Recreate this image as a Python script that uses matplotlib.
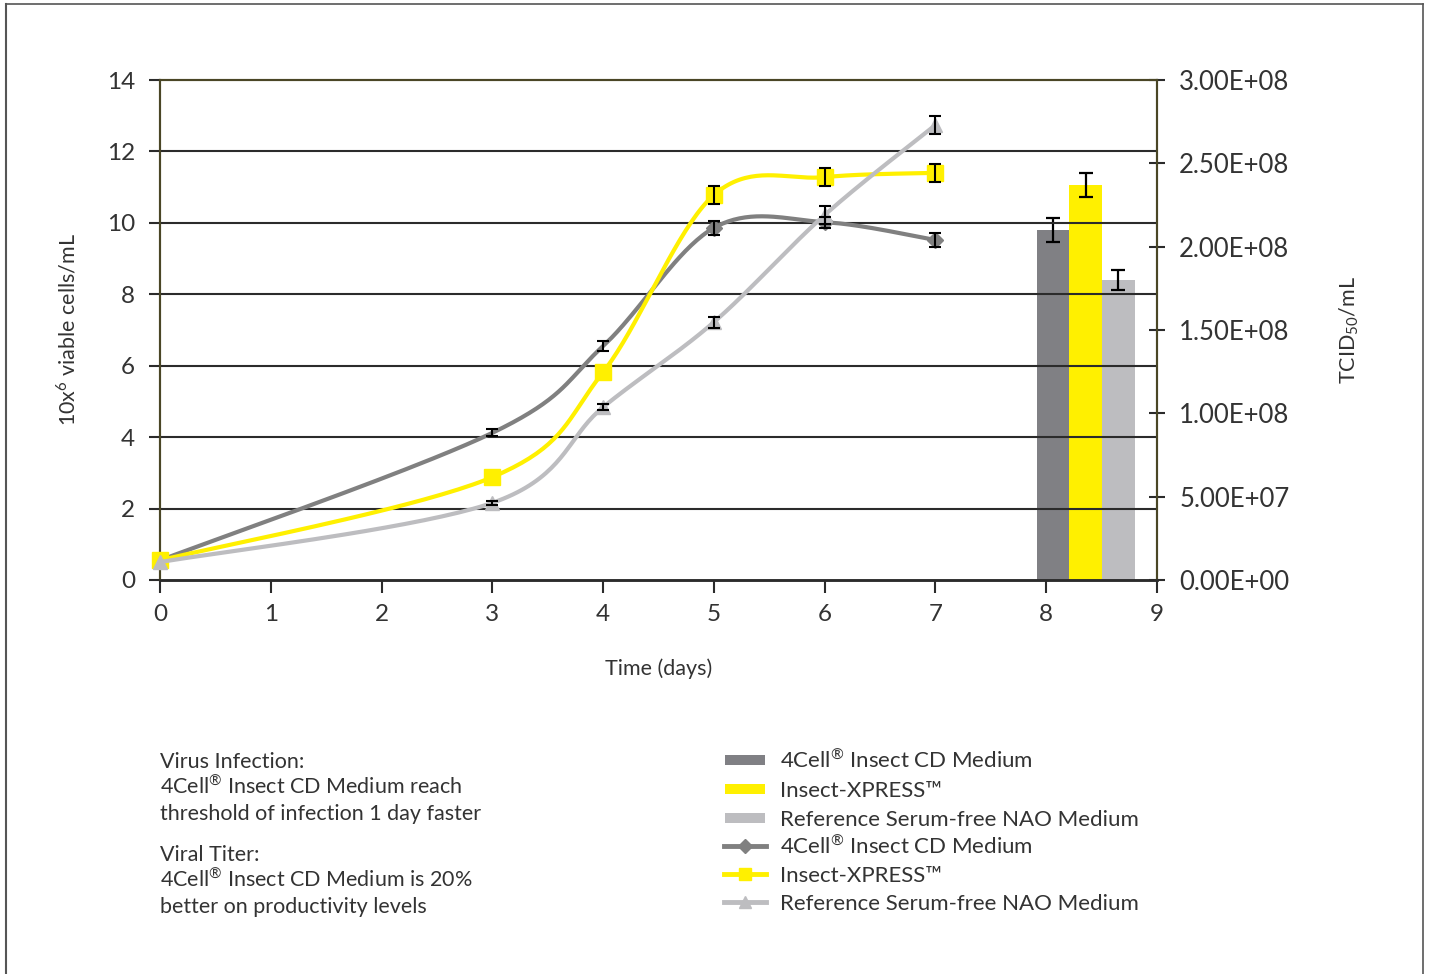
import numpy as np
import matplotlib
matplotlib.use("Agg")
import matplotlib.pyplot as plt
from matplotlib.patches import Rectangle
from matplotlib.lines import Line2D

plt.rcParams['font.family'] = ['Lato', 'DejaVu Sans']

# ---------------- data ----------------
days = [0, 3, 4, 5, 6, 7]
cell_4cell = [0.55, 4.12, 6.55, 9.86, 10.02, 9.52]
err_4cell = [0.0, 0.10, 0.15, 0.20, 0.15, 0.20]
cell_xpress = [0.55, 2.88, 5.82, 10.78, 11.28, 11.40]
err_xpress = [0.0, 0.0, 0.0, 0.25, 0.25, 0.25]
cell_ref = [0.50, 2.16, 4.84, 7.22, 10.22, 12.74]
err_ref = [0.0, 0.05, 0.08, 0.15, 0.25, 0.25]

bar_x = [8.06, 8.355, 8.65]
titer = [2.10e8, 2.37e8, 1.80e8]
titer_err = [0.07e8, 0.07e8, 0.06e8]

REG = "$^{\\mathregular{\u00ae}}$"
series_names = ["4Cell" + REG + " Insect CD Medium", "Insect-XPRESS\u2122",
                "Reference Serum-free NAO Medium"]
right_ticks = [0, 5e7, 1e8, 1.5e8, 2e8, 2.5e8, 3e8]
right_labels = ["0.00E+00", "5.00E+07", "1.00E+08", "1.50E+08",
                "2.00E+08", "2.50E+08", "3.00E+08"]
note_lines_1 = ["Virus Infection:", "4Cell" + REG + " Insect CD Medium reach",
                "threshold of infection 1 day faster"]
note_lines_2 = ["Viral Titer:", "4Cell" + REG + " Insect CD Medium is 20%",
                "better on productivity levels"]

C_GRAY = "#808084"
C_YEL = "#FFF000"
C_LGRAY = "#BDBDC0"
TXT = "#333333"
OLIVE = "#4a4626"

W, H = 1429, 974


def fx(px):
    return px / W


def fy(py):
    return 1 - py / H


def smooth(x, y, n=40):
    x = np.asarray(x, float)
    y = np.asarray(y, float)
    P = np.column_stack([x, y])
    out = [P[0]]
    for i in range(len(P) - 1):
        p0 = P[i - 1] if i > 0 else P[i]
        p1 = P[i]
        p2 = P[i + 1]
        p3 = P[i + 2] if i + 2 < len(P) else P[i + 1]
        c1 = p1 + (p2 - p0) / 6.0
        c2 = p2 - (p3 - p1) / 6.0
        t = np.linspace(0, 1, n)[1:, None]
        seg = ((1 - t) ** 3) * p1 + 3 * ((1 - t) ** 2) * t * c1 + 3 * (1 - t) * t ** 2 * c2 + t ** 3 * p2
        out.extend(seg)
    out = np.array(out)
    return out[:, 0], out[:, 1]


fig = plt.figure(figsize=(14.29, 9.74), dpi=100)
ax = fig.add_axes([fx(160), fy(580), (1157 - 160) / W, 500 / H])
ax2 = ax.twinx()

ax.set_xlim(0, 9)
ax.set_ylim(0, 14)
ax2.set_ylim(0, 3e8)

# grid
for g in range(2, 14, 2):
    ax.axhline(g, color="#2b2b2b", lw=1.5, zorder=1)

# bars on right axis
ax2.bar(bar_x, titer, width=0.295, color=[C_GRAY, C_YEL, C_LGRAY], zorder=2)
ax2.errorbar(bar_x, titer, yerr=titer_err, fmt="none", ecolor="black",
             elinewidth=1.6, capsize=5, capthick=1.6, zorder=3)

ax.set_zorder(ax2.get_zorder() + 1)
ax.patch.set_visible(False)

# lines
sx, sy = smooth(days, cell_4cell)
ax.plot(sx, sy, color="#808080", lw=3, zorder=3)
ax.plot(days, cell_4cell, ls="none", marker="D", ms=8, color="#808080",
        markevery=[0, 3, 4, 5], zorder=3, clip_on=False)
sx, sy = smooth(days, cell_xpress)
ax.plot(sx, sy, color=C_YEL, lw=3, zorder=4)
ax.plot(days, cell_xpress, ls="none", marker="s", ms=11, color=C_YEL, zorder=4,
        clip_on=False)
sx, sy = smooth(days, cell_ref)
ax.plot(sx, sy, color=C_LGRAY, lw=3, zorder=5)
ax.plot(days, cell_ref, ls="none", marker="^", ms=10, color=C_LGRAY, zorder=5,
        clip_on=False)

for vals, errs in [(cell_4cell, err_4cell), (cell_xpress, err_xpress), (cell_ref, err_ref)]:
    idx = [i for i, e in enumerate(errs) if e > 0]
    ax.errorbar([days[i] for i in idx], [vals[i] for i in idx],
                yerr=[errs[i] for i in idx], fmt="none", ecolor="black",
                elinewidth=1.5, capsize=4, capthick=1.5, zorder=6)

# axes styling
ax.set_xticks(range(0, 10))
ax.set_yticks(range(0, 15, 2))
ax.tick_params(axis="x", direction="out", length=9, width=1.5, color="#2b2b2b",
               labelsize=17.5, labelcolor=TXT, pad=8)
ax.tick_params(axis="y", direction="out", length=8, width=1.5, color="#2b2b2b",
               labelsize=17.5, labelcolor=TXT, pad=10)
ax2.set_yticks(right_ticks)
ax2.set_yticklabels(right_labels)
ax2.tick_params(axis="y", direction="inout", length=12, width=1.5, color="#2b2b2b",
                labelsize=18.5, labelcolor=TXT, pad=10)

for a in (ax, ax2):
    for s in ("left", "top", "right"):
        a.spines[s].set_color(OLIVE)
        a.spines[s].set_linewidth(1.5)
    a.spines["bottom"].set_color("#2b2b2b")
    a.spines["bottom"].set_linewidth(1.8)

ax.set_xlabel("Time (days)", fontsize=15.5, color=TXT, labelpad=24)
ax.set_ylabel("10x$^{\\mathregular{6}}$ viable cells/mL", fontsize=15.5, color=TXT, labelpad=20)
ax2.set_ylabel("TCID$_{\\mathregular{50}}$/mL", fontsize=15.5, color=TXT, labelpad=34)

# legend (drawn manually so rows are evenly spaced)
legend_rows = [760, 789, 818, 846, 874, 902]
handle_specs = [
    ("bar", C_GRAY, None), ("bar", C_YEL, None), ("bar", C_LGRAY, None),
    ("line", "#808080", "D"), ("line", C_YEL, "s"), ("line", C_LGRAY, "^"),
]
labels = series_names + series_names
for yc, (kind, col, mk), lab in zip(legend_rows, handle_specs, labels):
    if kind == "bar":
        fig.add_artist(Rectangle((fx(725), fy(yc + 5)), 40 / W, 10 / H,
                                 transform=fig.transFigure, facecolor=col,
                                 edgecolor="none"))
    else:
        fig.add_artist(Line2D([fx(724), fx(766)], [fy(yc), fy(yc)],
                              transform=fig.transFigure, color=col, lw=3.5))
        fig.add_artist(Line2D([fx(745)], [fy(yc)], transform=fig.transFigure,
                              color=col, marker=mk, ms=8 if mk != "D" else 7,
                              ls="none"))
    fig.text(fx(780), fy(yc + 8), lab, fontsize=16, color=TXT,
             va="baseline", ha="left")

# annotation text
for yb, line in zip([768, 794, 820], note_lines_1):
    fig.text(fx(160), fy(yb), line, fontsize=15.5, color=TXT, va="baseline", ha="left")
for yb, line in zip([861, 887, 913], note_lines_2):
    fig.text(fx(160), fy(yb), line, fontsize=15.5, color=TXT, va="baseline", ha="left")

# outer frame
fig.add_artist(Line2D([fx(6), fx(6)], [0, fy(4)], transform=fig.transFigure,
                      color="#555555", lw=1.5))
fig.add_artist(Line2D([fx(6), fx(1423)], [fy(4), fy(4)],
                      transform=fig.transFigure, color="#555555", lw=1.2))
fig.add_artist(Line2D([fx(1423), fx(1423)], [0, fy(4)], transform=fig.transFigure,
                      color="#555555", lw=1.2))

fig.savefig("out.png", dpi=100)
